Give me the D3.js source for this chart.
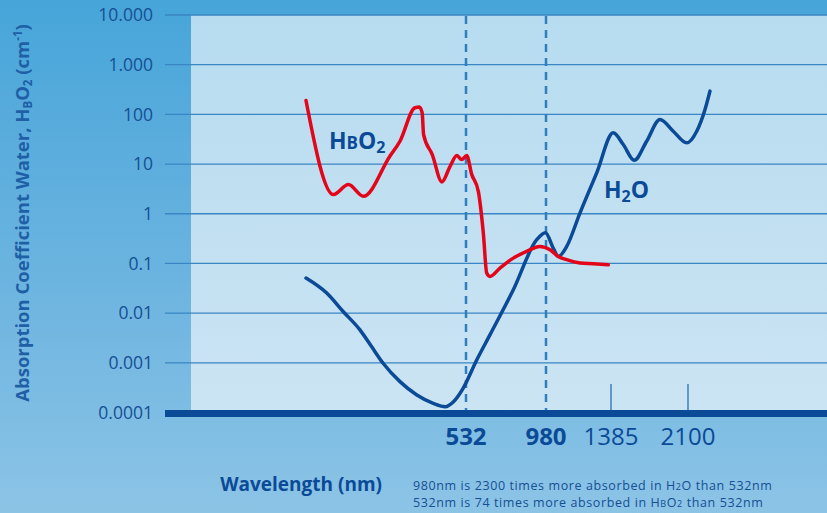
<!DOCTYPE html>
<html>
<head>
<meta charset="utf-8">
<script src="https://cdn.jsdelivr.net/npm/d3@7"></script>
<style>
  body { margin: 0; overflow: hidden; }
  svg { display: block; font-family: "Open Sans", "Noto Sans", sans-serif; }
</style>
</head>
<body>
<div id="chart"></div>
<script>
const width = 827;
const height = 513;

// y ticks (log), labels use European thousands separator
const yTicks = [0.0001, 0.001, 0.01, 0.1, 1, 10, 100, 1000, 10000];
const yTickLabels = ["0.0001", "0.001", "0.01", "0.1", "1", "10", "100", "1.000", "10.000"];

// x ticks (wavelength, nm)
const xTicks = [532, 980, 1385, 2100];
const xTickBold = [true, true, false, false];
const dashedAt = [532, 980];

// HbO2 absorption (wavelength nm, cm-1)
const hbWave = [200, 257, 288, 319, 374, 395, 426, 435, 441, 444, 462, 482, 499, 513, 523, 536, 564, 601, 629, 648, 666, 722, 797, 872, 946, 1005, 1057, 1109, 1192, 1275, 1368];
const hbValue = [190, 2.43, 3.86, 2.24, 14.4, 28.8, 136, 140, 108, 39.3, 15.5, 4.38, 9.03, 14.8, 12.3, 14.8, 6.2, 2.83, 0.41, 0.064, 0.0547, 0.0808, 0.128, 0.175, 0.220, 0.189, 0.138, 0.119, 0.102, 0.0986, 0.094];

// Water absorption (wavelength nm, cm-1)
const h2oWave = [200, 243, 277, 312, 336, 360, 395, 430, 464, 489, 506, 526, 592, 666, 797, 928, 977, 1025, 1057, 1109, 1192, 1296, 1406, 1499, 1601, 1716, 1840, 1963, 2088, 2181, 2258, 2304];
const h2oValue = [0.0508, 0.0253, 0.01077, 0.0046, 0.00212, 0.00098, 0.000418, 0.000225, 0.000153, 0.000131, 0.000165, 0.000307, 0.00114, 0.00365, 0.0295, 0.30, 0.416, 0.204, 0.138, 0.220, 1.04, 6.65, 42.6, 24.7, 11.9, 28.8, 78.9, 45.8, 26.7, 45.8, 125.6, 294];

const darkBlue = "#0b4a96";
const textBlue = "#154f94";

const svg = d3.select('#chart')
  .append('svg')
  .attr('width', width)
  .attr('height', height);

const defs = svg.append('defs');
const bg = defs.append('linearGradient').attr('id', 'bg')
  .attr('x1', 0).attr('y1', 0).attr('x2', 0).attr('y2', 1);
bg.append('stop').attr('offset', '0%').attr('stop-color', '#47a5d9');
bg.append('stop').attr('offset', '55%').attr('stop-color', '#6cb4e0');
bg.append('stop').attr('offset', '100%').attr('stop-color', '#8cc4e6');

const panelGrad = defs.append('linearGradient').attr('id', 'panel')
  .attr('x1', 0).attr('y1', 0).attr('x2', 0).attr('y2', 1);
panelGrad.append('stop').attr('offset', '0%').attr('stop-color', '#b7dcf0');
panelGrad.append('stop').attr('offset', '100%').attr('stop-color', '#cbe4f3');

svg.append('rect').attr('width', width).attr('height', height).attr('fill', 'url(#bg)');

// scales
const y = d3.scaleLog().domain([0.0001, 10000]).range([412.5, 15]);
const x = d3.scaleLinear()
  .domain([200, 532, 980, 1385, 2100])
  .range([306, 466, 546, 611, 688]);

// panel
svg.append('rect')
  .attr('x', 191).attr('y', y(10000))
  .attr('width', width - 191).attr('height', y(0.0001) - y(10000))
  .attr('fill', 'url(#panel)');

// grid lines
svg.append('g')
  .selectAll('line')
  .data(yTicks.slice(1))
  .join('line')
  .attr('x1', 165).attr('x2', width)
  .attr('y1', d => y(d)).attr('y2', d => y(d))
  .attr('stroke', '#3a85c3')
  .attr('stroke-width', 1.3);

// y tick labels
svg.append('g')
  .selectAll('text')
  .data(yTicks)
  .join('text')
  .attr('x', 153)
  .attr('y', d => y(d))
  .attr('dy', '0.36em')
  .attr('text-anchor', 'end')
  .attr('fill', textBlue)
  .attr('font-size', 17.5)
  .text((d, i) => yTickLabels[i]);

// dashed verticals
svg.append('g')
  .selectAll('line')
  .data(dashedAt)
  .join('line')
  .attr('x1', d => x(d)).attr('x2', d => x(d))
  .attr('y1', y(10000) + 1).attr('y2', 410)
  .attr('stroke', '#2f7fc0')
  .attr('stroke-width', 2.5)
  .attr('stroke-dasharray', '8,6');

// tall ticks for 1385, 2100
svg.append('g')
  .selectAll('line')
  .data(xTicks.filter((d, i) => !xTickBold[i]))
  .join('line')
  .attr('x1', d => x(d)).attr('x2', d => x(d))
  .attr('y1', 384).attr('y2', 410)
  .attr('stroke', '#2a6fb0')
  .attr('stroke-width', 1.3);

// curves
const line = d3.line()
  .x(d => x(d[0]))
  .y(d => y(d[1]))
  .curve(d3.curveMonotoneX);

svg.append('path')
  .datum(h2oWave.map((w, i) => [w, h2oValue[i]]))
  .attr('d', line)
  .attr('fill', 'none')
  .attr('stroke', darkBlue)
  .attr('stroke-width', 3.5)
  .attr('stroke-linecap', 'round')
  .attr('stroke-linejoin', 'round');

svg.append('path')
  .datum(hbWave.map((w, i) => [w, hbValue[i]]))
  .attr('d', line)
  .attr('fill', 'none')
  .attr('stroke', '#e3061b')
  .attr('stroke-width', 3.5)
  .attr('stroke-linecap', 'round')
  .attr('stroke-linejoin', 'round');

// x axis bar
svg.append('rect')
  .attr('x', 165).attr('y', 410)
  .attr('width', width - 165).attr('height', 7)
  .attr('fill', darkBlue);

// x tick labels
svg.append('g')
  .selectAll('text')
  .data(xTicks)
  .join('text')
  .attr('x', d => x(d))
  .attr('y', 445)
  .attr('text-anchor', 'middle')
  .attr('fill', darkBlue)
  .attr('font-size', 24)
  .attr('font-weight', (d, i) => xTickBold[i] ? 'bold' : 'normal')
  .text(d => d);

// curve labels
const hbLabel = svg.append('text')
  .attr('x', 329).attr('y', 149)
  .attr('fill', darkBlue)
  .attr('font-weight', 'bold')
  .attr('font-size', 23);
hbLabel.append('tspan').text('H');
hbLabel.append('tspan').attr('font-size', 17).text('B');
hbLabel.append('tspan').text('O');
hbLabel.append('tspan').attr('font-size', 16).attr('dy', 4).text('2');

const h2oLabel = svg.append('text')
  .attr('x', 604).attr('y', 198)
  .attr('fill', darkBlue)
  .attr('font-weight', 'bold')
  .attr('font-size', 23);
h2oLabel.append('tspan').text('H');
h2oLabel.append('tspan').attr('font-size', 16).attr('dy', 4).text('2');
h2oLabel.append('tspan').attr('dy', -4).text('O');

// y axis title
const yTitle = svg.append('text')
  .attr('transform', 'translate(29,213) rotate(-90)')
  .attr('text-anchor', 'middle')
  .attr('fill', '#1e5fa6')
  .attr('font-weight', 'bold')
  .attr('font-size', 18.5);
yTitle.append('tspan').text('Absorption Coefficient Water, H');
yTitle.append('tspan').attr('font-size', 11.5).attr('dy', 3).text('B');
yTitle.append('tspan').attr('dy', -3).text('O');
yTitle.append('tspan').attr('font-size', 11.5).attr('dy', 3).text('2');
yTitle.append('tspan').attr('dy', -3).text(' (cm');
yTitle.append('tspan').attr('font-size', 11.5).attr('dy', -7).text('-1');
yTitle.append('tspan').attr('dy', 7).text(')');

// x axis title
svg.append('text')
  .attr('x', 382).attr('y', 491)
  .attr('text-anchor', 'end')
  .attr('fill', darkBlue)
  .attr('font-weight', 'bold')
  .attr('font-size', 19)
  .text('Wavelength (nm)');

// notes
const note1 = svg.append('text')
  .attr('x', 413).attr('y', 490)
  .attr('fill', textBlue)
  .attr('font-size', 12.5)
  .attr('letter-spacing', 0.6);
note1.append('tspan').text('980nm is 2300 times more absorbed in H');
note1.append('tspan').attr('font-size', 9).text('2');
note1.append('tspan').text('O than 532nm');

const note2 = svg.append('text')
  .attr('x', 413).attr('y', 507)
  .attr('fill', textBlue)
  .attr('font-size', 12.5)
  .attr('letter-spacing', 0.6);
note2.append('tspan').text('532nm is 74 times more absorbed in H');
note2.append('tspan').attr('font-size', 9).text('B');
note2.append('tspan').text('O');
note2.append('tspan').attr('font-size', 9).text('2');
note2.append('tspan').text(' than 532nm');
</script>
</body>
</html>
